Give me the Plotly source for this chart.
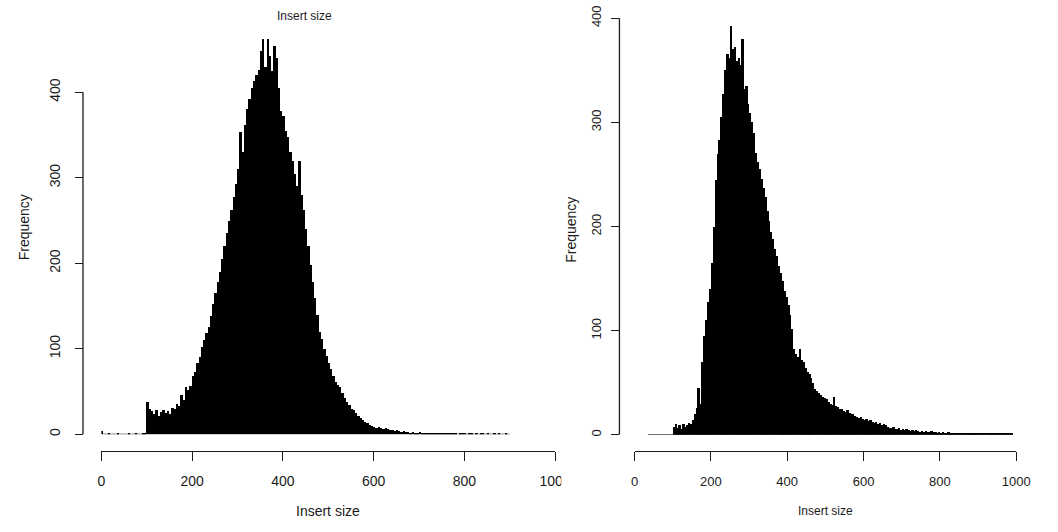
import numpy as np
import plotly.graph_objects as go

W, H = 1058, 532
BIN_WIDTH = 5

# ---- left histogram: counts per 5-unit bin, bins starting at 0 ----
left_start = 0
left_counts = [
    4, 0, 0, 1, 0, 0, 0, 1, 0, 0, 0, 0, 1, 0, 0, 1, 0, 0, 1, 2,
    38, 30, 27, 24, 28, 22, 26, 29, 25, 27, 24, 31, 30, 35, 33, 46, 40, 55, 52, 57,
    68, 73, 84, 91, 102, 110, 118, 126, 138, 152, 165, 178, 190, 205, 220, 236, 250, 262, 278, 293,
    310, 354, 330, 362, 380, 392, 405, 413, 420, 426, 448, 462, 430, 462, 442, 425, 454, 440, 405, 378,
    372, 355, 348, 330, 320, 305, 290, 320, 280, 262, 240, 220, 198, 178, 160, 140, 120, 112, 100, 92,
    84, 76, 68, 61, 58, 55, 48, 42, 38, 34, 30, 28, 25, 22, 19, 17, 15, 13, 11, 10,
    9, 8, 9, 7, 6, 7, 6, 5, 5, 4, 5, 4, 3, 4, 3, 3, 2, 3, 2, 2,
    3, 2, 2, 1, 2, 2, 1, 2, 1, 1, 2, 1, 1, 2, 1, 1, 1, 0, 1, 1,
    1, 0, 1, 1, 0, 1, 0, 1, 1, 0, 1, 0, 0, 1, 0, 1, 0, 0, 1, 0,
]

# ---- right histogram: counts per 5-unit bin, bins starting at 35 ----
right_start = 35
right_counts = [
    0, 0, 0, 0, 0, 0, 0, 0, 0, 0, 0, 0, 0,
    8, 10, 7, 9, 6, 10, 8, 9, 11, 10, 14, 20, 26, 45, 30, 70, 95, 110, 128, 140,
    165, 200, 245, 270, 283, 305, 327, 350, 366, 362, 393, 370, 372, 359, 362, 355, 380, 332, 335, 318,
    309, 300, 290, 271, 262, 255, 246, 237, 228, 215, 205, 195, 188, 178, 172, 162, 155, 148, 138, 132,
    125, 115, 102, 82, 78, 75, 82, 72, 70, 64, 60, 58, 55, 50, 44, 42, 40, 38, 36, 35,
    34, 32, 30, 29, 36, 28, 27, 25, 25, 23, 22, 24, 21, 20, 20, 18, 17, 16, 17, 15,
    14, 15, 13, 14, 12, 11, 12, 10, 11, 9, 10, 9, 8, 7, 7, 8, 6, 6, 7, 5,
    6, 5, 6, 5, 4, 5, 4, 5, 4, 3, 4, 3, 4, 3, 3, 4, 3, 3, 2, 3,
    2, 3, 2, 2, 3, 2, 2, 2, 1, 2, 1, 1, 2, 1, 1, 1, 1, 2, 1, 1,
    1, 1, 1, 2, 1, 1, 1, 1, 2, 1, 1, 1, 1, 2, 1, 1, 1, 1,
]

x_ticks = [0, 200, 400, 600, 800, 1000]
y_ticks = [0, 100, 200, 300, 400]
title_text = "Insert size"
x_title = "Insert size"
y_title = "Frequency"

FONT = "Liberation Sans, Arial, Helvetica, sans-serif"
INK = "#1a1a1a"


def px_x(p):
    return p / W


def px_y(p):
    return 1 - p / H


def centers(start, counts):
    return [start + BIN_WIDTH * (i + 0.5) for i in range(len(counts))]


fig = go.Figure()

# bars
fig.add_trace(go.Bar(x=centers(left_start, left_counts), y=left_counts, width=BIN_WIDTH,
                     marker=dict(color="black", line=dict(width=0)),
                     xaxis="x", yaxis="y", showlegend=False, hoverinfo="skip"))
fig.add_trace(go.Bar(x=centers(right_start, right_counts), y=right_counts, width=BIN_WIDTH,
                     marker=dict(color="black", line=dict(width=0)),
                     xaxis="x2", yaxis="y2", showlegend=False, hoverinfo="skip"))

# baseline (bar bottoms, visible where counts are zero)
left_end = left_start + BIN_WIDTH * len(left_counts)
right_end = right_start + BIN_WIDTH * len(right_counts)
fig.add_trace(go.Scatter(x=[left_start, left_end], y=[0, 0], mode="lines",
                         line=dict(color="black", width=1.2), xaxis="x", yaxis="y",
                         showlegend=False, hoverinfo="skip"))
fig.add_trace(go.Scatter(x=[right_start, right_end], y=[0, 0], mode="lines",
                         line=dict(color="black", width=1.2), xaxis="x2", yaxis="y2",
                         showlegend=False, hoverinfo="skip"))

# pixel geometry of the two panels
L_x0, L_x1000 = 99.3, 561.7      # x pixel of value 0 and 1000 (left)
R_x0, R_x1000 = 642.7, 1031.7    # (right)
L_y0, L_y400 = 435.7, 91.7       # y pixel of count 0 and 400 (left)
R_y0, R_y400 = 436.3, 17.3       # (right)
L_top, R_top = 25.0, 5.0
L_yaxis_px, R_yaxis_px = 80.5, 627.3
xaxis_px = 452.7

L_scale = (L_y0 - L_y400) / 400.0
R_scale = (R_y0 - R_y400) / 400.0

tickfont_L = dict(family=FONT, size=14, color=INK)
tickfont_R = dict(family=FONT, size=13, color=INK)

common_x = dict(range=[0, 1000], tickvals=x_ticks, ticktext=[str(v) for v in x_ticks],
                showline=True, linecolor=INK, linewidth=1.3, ticks="outside", ticklen=9,
                tickwidth=1.3, tickcolor=INK, showgrid=False, zeroline=False,
                anchor="free", position=px_y(xaxis_px), fixedrange=True)
common_y = dict(tickvals=y_ticks, ticktext=[str(v) for v in y_ticks], showline=False,
                ticks="outside", ticklen=8, tickwidth=1.3, tickcolor=INK, tickangle=-90,
                showgrid=False, zeroline=False, anchor="free", fixedrange=True)


def label(text, xp, yp, size, angle=0):
    return dict(text=text, x=px_x(xp), y=px_y(yp), xref="paper", yref="paper",
                xanchor="center", yanchor="middle", showarrow=False, textangle=angle,
                font=dict(size=size, family=FONT, color=INK))


fig.update_layout(
    width=W, height=H,
    margin=dict(l=0, r=0, t=0, b=0),
    paper_bgcolor="white", plot_bgcolor="rgba(0,0,0,0)",
    bargap=0,
    font=dict(family=FONT, color=INK),
    xaxis=dict(domain=[px_x(L_x0), px_x(L_x1000)], tickfont=tickfont_L,
               ticklabelstandoff=8, **common_x),
    xaxis2=dict(domain=[px_x(R_x0), px_x(R_x1000)], tickfont=tickfont_R,
                ticklabelstandoff=9, **common_x),
    yaxis=dict(domain=[px_y(L_y0), px_y(L_top)], range=[0, (L_y0 - L_top) / L_scale],
               position=px_x(L_yaxis_px), tickfont=tickfont_L, ticklabelstandoff=9,
               **common_y),
    yaxis2=dict(domain=[px_y(R_y0), px_y(R_top)], range=[0, (R_y0 - R_top) / R_scale],
                position=px_x(R_yaxis_px), tickfont=tickfont_R, ticklabelstandoff=5,
                **common_y),
    shapes=[
        dict(type="line", xref="paper", yref="y", x0=px_x(L_yaxis_px), x1=px_x(L_yaxis_px),
             y0=y_ticks[0], y1=y_ticks[-1], line=dict(color=INK, width=1.3)),
        dict(type="line", xref="paper", yref="y2", x0=px_x(R_yaxis_px), x1=px_x(R_yaxis_px),
             y0=y_ticks[0], y1=y_ticks[-1], line=dict(color=INK, width=1.3)),
        # right image overlapping the end of the left axis labels
        dict(type="rect", xref="paper", yref="paper", x0=px_x(568), x1=px_x(600),
             y0=px_y(492), y1=px_y(466), fillcolor="white", line=dict(width=0), layer="above"),
    ],
    annotations=[
        label(title_text, 306, 15, 12),
        label(x_title, 330, 513, 14),
        label(y_title, 20, 228, 14, -90),
        label(x_title, 837, 513, 12),
        label(y_title, 578, 230, 14, -90),
    ],
)

fig.write_html("out.html")
